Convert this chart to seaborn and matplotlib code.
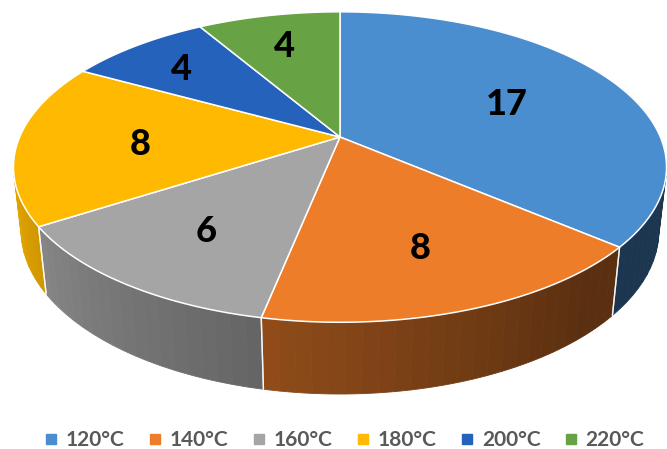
import numpy as np
import matplotlib
matplotlib.use("Agg")
import matplotlib.pyplot as plt
import seaborn as sns
from matplotlib.patches import Polygon
from matplotlib.lines import Line2D

# Number of samples per temperature
categories = ["120°C", "140°C", "160°C", "180°C", "200°C", "220°C"]
counts = [17, 8, 6, 8, 4, 4]
colors = ["#4A8ED0", "#EE7D2A", "#A5A5A5", "#FFB900", "#2462BB", "#67A244"]

sns.set_theme(style="white")
plt.rcParams["font.family"] = ["Lato", "DejaVu Sans"]

# Perspective camera for the tilted disc (pixel space)
tilt = np.radians(27.8)
cam = 4.57
focal = 1464.0
depth = 0.225
cx, cy = 340.0, 137.0


def project(theta_deg, r=1.0, height=0.0):
    t = np.radians(theta_deg)
    X = r * np.sin(t)
    Z = r * np.cos(t)
    v = height * np.cos(tilt) + Z * np.sin(tilt)
    w = cam + Z * np.cos(tilt) - height * np.sin(tilt)
    return cx + focal * X / w, cy - focal * v / w


def shade(theta_deg):
    return float(np.clip(0.58 + 0.0044 * (theta_deg - 185.0), 0.38, 0.9))


fig = plt.figure(figsize=(6.67, 4.49), dpi=100)
ax = fig.add_axes([0, 0, 1, 1])
ax.set_xlim(0, 667)
ax.set_ylim(449, 0)
ax.axis("off")

total = float(sum(counts))
bounds = np.concatenate([[0.0], np.cumsum(counts) / total * 360.0])

# angular range of the outer wall that faces the camera
cut = np.degrees(np.arccos(-1.0 / (cam * np.cos(tilt))))
vis0, vis1 = cut, 360.0 - cut

# side walls, drawn as narrow strips with a left-to-right light falloff
for i, c in enumerate(colors):
    a0, a1 = bounds[i], bounds[i + 1]
    lo, hi = max(a0, vis0), min(a1, vis1)
    if lo >= hi:
        continue
    base = np.array(matplotlib.colors.to_rgb(c))
    n = int(np.ceil((hi - lo) / 2.5))
    edges = np.linspace(lo, hi, n + 1)
    for s0, s1 in zip(edges[:-1], edges[1:]):
        th = np.linspace(s0, s1, 6)
        tx, ty = project(th)
        bx, by = project(th[::-1], height=-depth)
        col = np.clip(base * shade((s0 + s1) / 2), 0, 1)
        ax.add_patch(Polygon(np.column_stack([np.r_[tx, bx], np.r_[ty, by]]),
                             closed=True, facecolor=col, edgecolor=col,
                             linewidth=0.6))
    for b in (a0, a1):
        if vis0 < b < vis1:
            x0, y0 = project(b)
            x1, y1 = project(b, height=-depth)
            ax.plot([x0, x1], [y0, y1], color="white", lw=1.0, alpha=0.8)

# top faces
for i, c in enumerate(colors):
    a0, a1 = bounds[i], bounds[i + 1]
    th = np.linspace(a0, a1, max(int((a1 - a0) * 1.5), 8))
    ax_, ay_ = project(th)
    xs = np.r_[cx, ax_]
    ys = np.r_[cy, ay_]
    ax.add_patch(Polygon(np.column_stack([xs, ys]), closed=True, facecolor=c,
                         edgecolor="white", linewidth=1.1, joinstyle="round"))

# value labels
for i, v in enumerate(counts):
    mid = (bounds[i] + bounds[i + 1]) / 2
    ex, ey = project(mid)
    frac = 0.62 if v >= 6 else 0.78
    lx = cx + frac * (ex - cx)
    ly = cy + frac * (ey - cy) + 4
    ax.text(lx, ly, str(v), ha="center", va="center", fontsize=26,
            fontweight="black", color="black")

handles = [Line2D([], [], marker="s", ls="", markersize=7.5,
                  markerfacecolor=c, markeredgecolor=c) for c in colors]
leg = fig.legend(handles, categories, ncol=6, loc="center",
                 bbox_to_anchor=(0.516, 0.02), frameon=False,
                 prop={"weight": "bold", "size": 15}, handletextpad=0.35,
                 columnspacing=1.12, handlelength=0.7)
for t in leg.get_texts():
    t.set_color("#595959")

fig.savefig("out.png", dpi=100)
